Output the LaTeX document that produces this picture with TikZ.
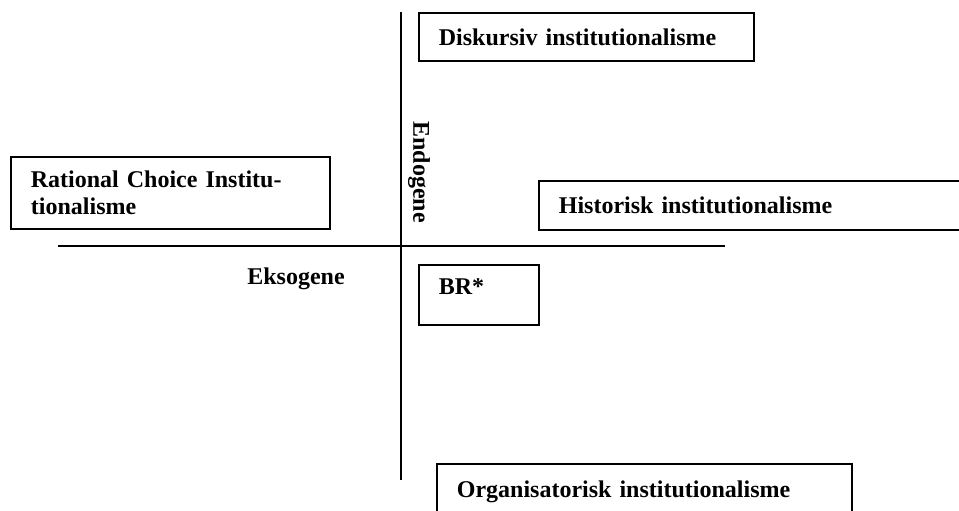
\documentclass[tikz,border=0pt]{standalone}
\usepackage{fontspec}
\setmainfont{Liberation Serif}
\usepackage{tikz}
\usetikzlibrary{positioning}

\begin{document}
\begin{tikzpicture}[x=1pt,y=-1pt,
 box/.style={draw,line width=1.8pt,anchor=north west,align=left,inner xsep=20pt,inner ysep=0pt,
   font=\fontsize{24}{27}\selectfont\bfseries},
 lbl/.style={inner sep=0pt,font=\fontsize{24}{27}\selectfont\bfseries},
 axis/.style={line width=1.8pt}]
\useasboundingbox (0,0) rectangle (959,511);
\clip (0,0) rectangle (959,511);
% axes
\coordinate (top) at (401,12);
\coordinate (bottom) at (401,480);
\coordinate (left) at (58,246);
\coordinate (right) at (725,246);
\draw[axis] (top) -- (bottom);
\draw[axis] (left) -- (right);
\node[lbl,rotate=-90] (endo) at (419,172) {Endogene};
\node[lbl] (ekso) at (296,279) {Eksogene};
% boxes
\node[box,text width=295pt,minimum height=48pt] (disk) at (418,12) {Diskursiv institutionalisme};
\node[box,text width=279pt,minimum height=72pt] (rc) at (10,156) {Rational Choice Institu-\\tionalisme};
\node[box,text width=440pt,minimum height=49pt] (hist) at (538,180) {Historisk institutionalisme};
\node[box,text width=80pt,minimum height=60pt,text depth=16pt] (br) at (418,264) {BR*};
\node[box,text width=375pt,minimum height=55pt] (org) at (436,463) {Organisatorisk institutionalisme};
\end{tikzpicture}
\end{document}
